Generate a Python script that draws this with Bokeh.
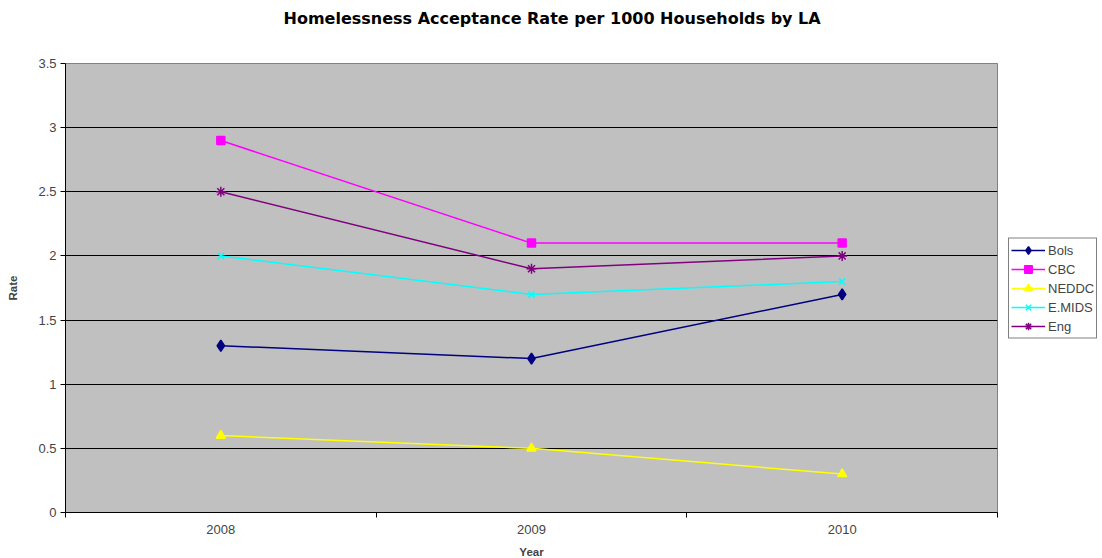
from bokeh.plotting import figure
from bokeh.models import FixedTicker, Legend, LegendItem, Range1d, Title
from bokeh.embed import file_html
from bokeh.resources import INLINE

# Acceptance rate per 1000 households, by local authority
years = ["2008", "2009", "2010"]
bols = [1.3, 1.2, 1.7]
cbc = [2.9, 2.1, 2.1]
neddc = [0.6, 0.5, 0.3]
emids = [2.0, 1.7, 1.8]
eng = [2.5, 1.9, 2.0]

y_ticks = [0, 0.5, 1, 1.5, 2, 2.5, 3, 3.5]
y_tick_labels = ["0", "0.5", "1", "1.5", "2", "2.5", "3", "3.5"]

# name, values, colour, marker, size
series = [
    ("Bols", bols, "#000080", "diamond", 11),
    ("CBC", cbc, "#FF00FF", "square", 8),
    ("NEDDC", neddc, "#FFFF00", "triangle", 9),
    ("E.MIDS", emids, "#00FFFF", "x", 9),
    ("Eng", eng, "#800080", "asterisk", 10),
]

FONT = "Liberation Sans"

# categories sit in the middle of equal-width slots
xs = [i + 0.5 for i in range(len(years))]

p = figure(frame_width=932, frame_height=449, output_backend="svg",
           toolbar_location=None,
           x_range=Range1d(0, len(years)), y_range=Range1d(0, 3.5),
           min_border_left=65, min_border_right=105, min_border_top=0,
           min_border_bottom=46)

p.title.text = "Homelessness Acceptance Rate per 1000 Households by LA"
p.title.align = "left"
p.title.offset = 218
p.title.standoff = 16
p.title.vertical_align = "top"
p.title.text_font = "DejaVu Sans"
p.title.text_font_size = "16px"
p.title.text_font_style = "bold"
p.title.text_color = "black"

# blank title used as a spacer between the heading and the plot area
spacer = Title(text=" ", text_font_size="1px", standoff=23)
p.add_layout(spacer, "above")

p.background_fill_color = "#C0C0C0"
p.border_fill_color = "white"
p.outline_line_color = "#808080"
p.outline_line_width = 1

# y axis
p.yaxis.ticker = FixedTicker(ticks=y_ticks)
p.yaxis.major_label_overrides = {t: l for t, l in zip(y_ticks, y_tick_labels)}
p.yaxis.axis_label = "Rate"
p.yaxis.axis_label_text_font = FONT
p.yaxis.axis_label_text_font_style = "bold"
p.yaxis.axis_label_text_font_size = "11.5px"
p.yaxis.axis_label_standoff = 16
p.yaxis.major_label_text_font = FONT
p.yaxis.major_label_text_font_size = "13px"
p.yaxis.major_label_standoff = 4
p.yaxis.major_tick_in = 0
p.yaxis.major_tick_out = 5
p.yaxis.minor_tick_line_color = None
p.yaxis.axis_line_color = "black"
p.yaxis.major_tick_line_color = "black"

# x axis: labels at slot centres, tick marks on slot boundaries
p.xaxis.ticker = FixedTicker(ticks=xs, minor_ticks=list(range(len(years) + 1)))
p.xaxis.major_label_overrides = {x: y for x, y in zip(xs, years)}
p.xaxis.major_tick_line_color = None
p.xaxis.major_tick_in = 0
p.xaxis.major_tick_out = 5
p.xaxis.minor_tick_in = 0
p.xaxis.minor_tick_out = 5
p.xaxis.minor_tick_line_color = "black"
p.xaxis.major_label_standoff = 7
p.xaxis.major_label_text_font = FONT
p.xaxis.major_label_text_font_size = "13px"
p.xaxis.axis_label = "Year"
p.xaxis.axis_label_text_font = FONT
p.xaxis.axis_label_text_font_style = "bold"
p.xaxis.axis_label_text_font_size = "11.5px"
p.xaxis.axis_label_standoff = 9
p.xaxis.axis_line_color = "black"

p.xgrid.grid_line_color = None
p.ygrid.ticker = FixedTicker(ticks=y_ticks)
p.ygrid.grid_line_color = "black"
p.ygrid.grid_line_width = 1

items = []
for name, vals, color, marker, size in series:
    ln = p.line(xs, vals, line_color=color, line_width=1.5)
    sc = p.scatter(xs, vals, marker=marker, size=size,
                   fill_color=color, line_color=color, line_width=1.5)
    items.append(LegendItem(label=name, renderers=[ln, sc]))

legend = Legend(items=items, location="left", orientation="vertical",
                background_fill_color="white", background_fill_alpha=1,
                border_line_color="black", border_line_width=1,
                label_text_font=FONT, label_text_font_size="13px",
                glyph_width=34, glyph_height=19, label_height=19,
                label_standoff=3, spacing=0, padding=2, margin=11)
p.add_layout(legend, "right")

open("out.html", "w").write(file_html(p, INLINE))
